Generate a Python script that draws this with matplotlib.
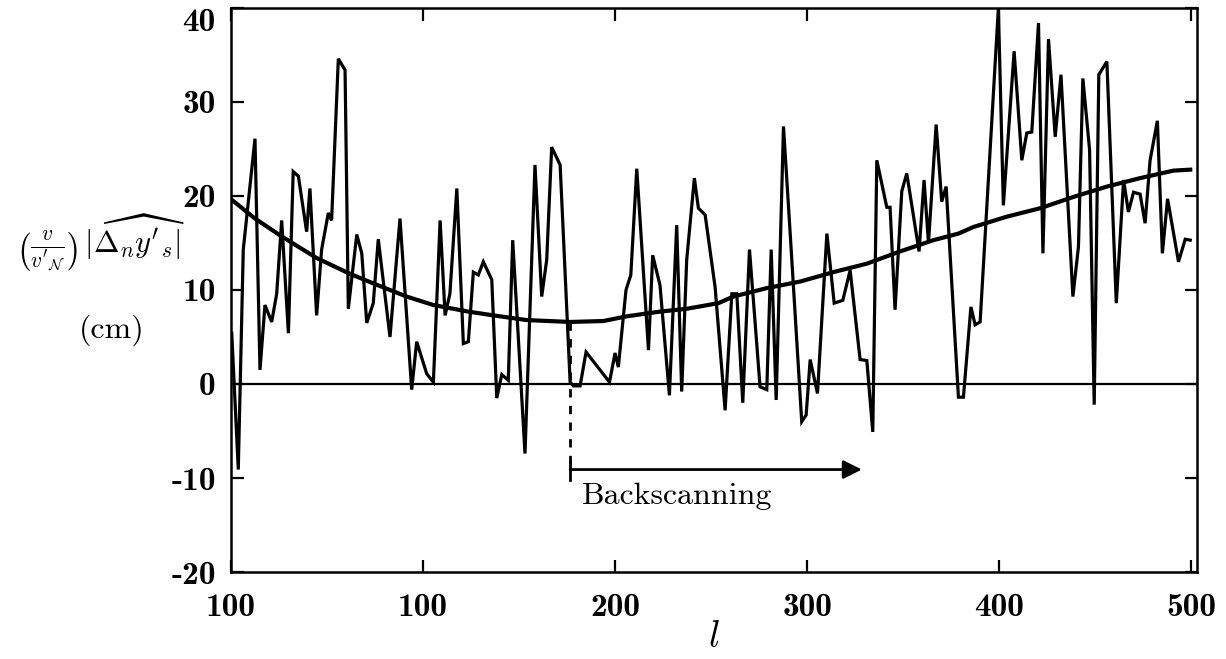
import matplotlib
matplotlib.use('Agg')
import matplotlib.pyplot as plt

plt.rcParams['mathtext.fontset'] = 'cm'
plt.rcParams['axes.unicode_minus'] = False

# noisy deviation curve
l_dev = [0.4, 3.8, 6.4, 12.5, 15.1, 17.7, 21.2, 23.8, 26.4, 29.9, 32.4, 35.1, 39.4, 41.1,
         44.6, 47.2, 50.7, 52.4, 55.9, 59.4, 61.1, 65.5, 68.1, 70.7, 74.1, 76.7, 82.8,
         88.0, 94.1, 96.7, 101.9, 105.4, 108.9, 111.5, 114.0, 117.6, 121.0, 123.6, 126.2,
         128.8, 131.4, 135.8, 138.4, 141.0, 144.4, 146.7, 153.1, 158.3, 161.8, 164.4,
         167.0, 171.4, 176.6, 178.3, 181.8, 184.9, 197.1, 200.0, 201.7, 205.7, 208.2,
         211.3, 217.4, 219.6, 223.4, 228.3, 232.1, 234.7, 237.3, 241.3, 243.4, 246.9,
         252.1, 257.3, 260.8, 263.4, 266.5, 270.0, 275.5, 279.0, 281.3, 283.9, 287.7,
         291.5, 297.2, 299.5, 301.6, 305.4, 310.3, 314.1, 318.6, 322.4, 327.6, 331.1,
         334.2, 336.3, 341.5, 343.2, 345.8, 349.3, 351.9, 358.3, 360.9, 363.2, 367.2,
         370.1, 372.4, 378.8, 381.4, 385.3, 387.5, 390.1, 399.6, 402.2, 407.8, 411.8,
         414.4, 417.0, 420.5, 422.8, 425.7, 429.2, 432.2, 438.4, 441.3, 443.6, 447.1,
         449.5, 451.9, 456.1, 461.0, 464.8, 467.3, 470.0, 473.4, 476.0, 478.6, 482.4,
         485.0, 487.7, 493.4, 496.9, 499.5]
dev = [5.4, -9.1, 14.3, 26.1, 1.5, 8.4, 6.6, 9.6, 17.4, 5.4, 22.6, 22.1, 16.2, 20.8,
       7.3, 14.3, 18.2, 17.4, 34.6, 33.4, 8.0, 15.9, 13.9, 6.5, 8.6, 15.4, 5.0,
       17.6, -0.6, 4.5, 1.1, 0.2, 17.4, 7.3, 9.6, 20.8, 4.3, 4.5, 11.9,
       11.6, 13.0, 11.1, -1.5, 1.0, 0.4, 15.3, -7.4, 23.3, 9.3, 13.2,
       25.2, 23.3, 0.2, -0.2, -0.2, 3.4, 0.2, 3.3, 1.8, 10.0, 11.6,
       22.9, 3.6, 13.7, 10.5, -1.2, 16.9, -0.8, 13.2, 21.9, 18.7, 18.0,
       10.3, -2.8, 9.6, 9.6, -2.0, 14.3, -0.3, -0.6, 14.3, -1.7, 27.4,
       15.0, -4.0, -3.3, 2.6, -1.0, 16.0, 8.6, 8.9, 12.1, 2.6, 2.5,
       -5.1, 23.8, 18.8, 18.8, 7.9, 20.5, 22.4, 14.1, 21.7, 15.0, 27.6,
       19.4, 21.0, -1.4, -1.4, 8.2, 6.3, 6.6, 40.0, 19.0, 35.4, 23.8,
       26.7, 26.8, 38.4, 13.9, 36.7, 26.3, 32.9, 9.3, 14.6, 32.5, 24.9,
       -2.2, 32.9, 34.3, 8.6, 21.7, 18.3, 20.4, 20.2, 17.1, 23.8, 28.0,
       13.9, 19.7, 13.0, 15.4, 15.3]

# smooth envelope curve
l_smooth = [0.4, 12.5, 26.4, 44.6, 61.1, 74.1, 91.5, 105.4, 123.6, 136.6, 154.0, 176.6,
            194.0, 206.1, 223.4, 237.3, 253.8, 261.6, 279.0, 296.4, 313.7, 331.1, 348.4,
            365.8, 378.8, 386.6, 404.0, 421.4, 438.7, 456.1, 473.4, 490.8, 499.5]
smooth = [19.6, 17.6, 15.7, 13.4, 11.8, 10.7, 9.3, 8.4, 7.7, 7.3, 6.8, 6.6,
          6.7, 7.2, 7.7, 8.0, 8.6, 9.3, 10.2, 10.9, 11.9, 12.8, 14.1,
          15.3, 16.0, 16.7, 17.8, 18.7, 19.9, 21.0, 21.9, 22.7, 22.8]

x_ticks = [0, 100, 200, 300, 400, 500]
x_tick_labels = ['100', '100', '200', '300', '400', '500']
y_ticks = [-20, -10, 0, 10, 20, 30, 40]

backscan_start = 176.6
backscan_end = 328.5

fig = plt.figure(figsize=(12.26, 6.59), dpi=100)
ax = fig.add_axes([0.1884, 0.1320, 0.7879, 0.8559])

ax.axhline(0, color='black', lw=1.6)
ax.plot(l_dev, dev, color='black', lw=2.3, solid_joinstyle='miter')
ax.plot(l_smooth, smooth, color='black', lw=3.0)

# backscanning marker
ax.plot([backscan_start, backscan_start], [6.6, -8.4], color='black', lw=2.0,
        linestyle=(0, (3, 3)))
ax.plot([backscan_start, backscan_start], [-8.3, -10.2], color='black', lw=2.0)
ax.annotate('', xy=(backscan_end, -9.1), xytext=(backscan_start, -9.1),
            arrowprops=dict(arrowstyle='-|>', color='black', lw=2.0,
                            mutation_scale=28, shrinkA=0, shrinkB=0))
ax.text(backscan_start + 6.0, -11.9, 'Backscanning', family='cmr10', fontsize=23,
        va='center', ha='left')

ax.set_xlim(0, 503)
ax.set_ylim(-20, 40)
ax.set_xticks(x_ticks)
ax.set_xticklabels(x_tick_labels)
ax.set_yticks(y_ticks)
ax.tick_params(direction='in', length=9, width=1.6, top=True, right=True,
               labelsize=24)
ax.tick_params(axis='x', pad=15)
ax.tick_params(axis='y', pad=11)
for lab in ax.get_xticklabels() + ax.get_yticklabels():
    lab.set_family('cmb10')
# top label sits flush with the frame instead of centred on it
ax.yaxis.get_major_ticks()[-1].label1.set_verticalalignment('top')
for sp in ax.spines.values():
    sp.set_linewidth(1.8)

ax.set_xlabel(r'$l$', fontsize=27, labelpad=-2)

fig.text(0.0816, 0.631, r"$\left(\frac{v}{v'_{\mathcal{N}}}\right)\,|\widehat{\Delta_n y'_s}|$",
         fontsize=22, ha='center', va='center')
fig.text(0.0913, 0.499, '(cm)', family='cmr10', fontsize=23, ha='center', va='center')

fig.savefig('out.png', dpi=100)
